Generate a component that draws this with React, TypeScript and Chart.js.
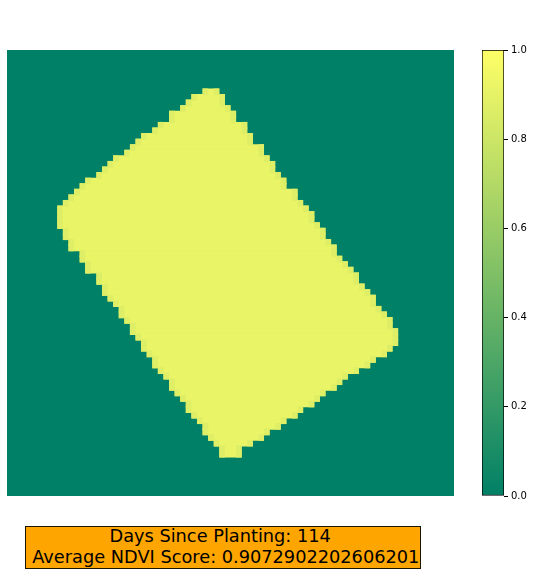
import React, { useEffect, useRef } from "react";
import { Chart, registerables } from "chart.js";

Chart.register(...registerables);

// ---- data ----
const gridSize = 80; // 80 x 80 NDVI raster
const firstFieldRow = 7;
// first and last field column of each raster row, rows 7..72
const fieldLeftCol = [
  35, 33, 32, 31, 29, 29, 27, 26, 24, 23, 22, 21, 19, 18, 17, 16, 14, 13, 12, 11,
  10, 9, 9, 9, 9, 10, 10, 11, 11, 13, 13, 14, 14, 16, 16, 17, 17, 18, 19, 20,
  20, 21, 22, 22, 23, 24, 24, 25, 26, 26, 27, 28, 29, 29, 30, 31, 32, 32, 33, 34,
  35, 35, 36, 37, 38, 38,
];
const fieldRightCol = [
  37, 38, 38, 39, 40, 40, 42, 42, 43, 43, 45, 45, 46, 47, 47, 48, 49, 49, 51, 51,
  52, 53, 54, 54, 55, 56, 56, 57, 58, 58, 59, 60, 61, 62, 62, 63, 64, 65, 65, 66,
  67, 68, 68, 69, 69, 69, 68, 67, 65, 64, 62, 60, 59, 58, 56, 55, 54, 52, 51, 49,
  48, 46, 45, 43, 41, 41,
];
const interiorNdvi = 0.915;
const edgeNdvi = 0.87;
const backgroundNdvi = 0.0;
const colorbarTicks = [0.0, 0.2, 0.4, 0.6, 0.8, 1.0];
const daysSincePlanting = 114;
const averageNdvi = "0.9072902202606201";

// matplotlib "summer" colormap
const summer = (v: number) =>
  `rgb(${Math.round(255 * v)},${Math.round(127.5 + 127.5 * v)},102)`;

const rowLabels = Array.from({ length: gridSize }, (_, i) => String(i));
const rowValue = (fn: (k: number) => [number, number]) =>
  rowLabels.map((_, r) => {
    const k = r - firstFieldRow;
    if (k < 0 || k >= fieldLeftCol.length) return null;
    return fn(k);
  });

const fieldBars = rowValue((k) => [fieldLeftCol[k], fieldRightCol[k] + 1]);
const leftEdgeBars = rowValue((k) => [fieldLeftCol[k], fieldLeftCol[k] + 1]);
const rightEdgeBars = rowValue((k) => [fieldRightCol[k], fieldRightCol[k] + 1]);
const backgroundBars = rowLabels.map(() => [0, gridSize]);

export default function App() {
  const mainRef = useRef<HTMLCanvasElement>(null);
  const cbRef = useRef<HTMLCanvasElement>(null);

  useEffect(() => {
    const common = {
      barPercentage: 1.2,
      categoryPercentage: 1,
      grouped: false,
      borderWidth: 0,
    };
    const main = new Chart(mainRef.current!, {
      type: "bar",
      data: {
        labels: rowLabels,
        datasets: [
          { ...common, data: leftEdgeBars as any, backgroundColor: summer(edgeNdvi) },
          { ...common, data: rightEdgeBars as any, backgroundColor: summer(edgeNdvi) },
          { ...common, data: fieldBars as any, backgroundColor: summer(interiorNdvi) },
          { ...common, data: backgroundBars as any, backgroundColor: summer(backgroundNdvi) },
        ],
      },
      options: {
        indexAxis: "y",
        animation: false,
        responsive: false,
        maintainAspectRatio: false,
        layout: { padding: 0 },
        scales: {
          x: { type: "linear", min: 0, max: gridSize, display: false },
          y: { type: "category", display: false },
        },
        plugins: { legend: { display: false }, tooltip: { enabled: false } },
      },
    });

    const cb = new Chart(cbRef.current!, {
      type: "bar",
      data: {
        labels: [""],
        datasets: [
          {
            data: [[0, 1]] as any,
            barPercentage: 1,
            categoryPercentage: 1,
            borderColor: "#000",
            borderWidth: 1,
            borderSkipped: false,
            backgroundColor: (ctx: any) => {
              const area = ctx.chart.chartArea;
              if (!area) return "rgba(0,0,0,0)";
              const g = ctx.chart.ctx.createLinearGradient(0, area.bottom, 0, area.top);
              g.addColorStop(0, summer(0));
              g.addColorStop(1, summer(1));
              return g;
            },
          },
        ],
      },
      options: {
        animation: false,
        responsive: false,
        maintainAspectRatio: false,
        layout: { padding: { top: 10, bottom: 10, left: 12, right: 0 } },
        scales: {
          x: { display: false },
          y: {
            type: "linear",
            position: "right",
            min: 0,
            max: 1,
            afterFit: (s: any) => {
              s.width = 29;
            },
            afterBuildTicks: (s: any) => {
              s.ticks = colorbarTicks.map((v) => ({ value: v }));
            },
            ticks: {
              callback: (v: any) => Number(v).toFixed(1),
              color: "#000",
              padding: 3,
              font: { family: "DejaVu Sans", size: 10 },
            },
            grid: {
              drawOnChartArea: false,
              drawTicks: true,
              tickLength: 4,
              color: "#000",
              lineWidth: 1,
            },
            border: { display: false },
          },
        },
        plugins: { legend: { display: false }, tooltip: { enabled: false } },
      },
    });

    return () => {
      main.destroy();
      cb.destroy();
    };
  }, []);

  return (
    <div
      style={{
        position: "fixed",
        left: 0,
        top: 0,
        width: 533,
        height: 574,
        background: "#fff",
        overflow: "hidden",
      }}
    >
      <canvas
        ref={mainRef}
        width={447}
        height={446}
        style={{ position: "absolute", left: 7, top: 50, width: 447, height: 446 }}
      />
      <canvas
        ref={cbRef}
        width={63}
        height={466}
        style={{ position: "absolute", left: 470, top: 40, width: 63, height: 466 }}
      />
      <div
        style={{
          position: "absolute",
          left: 25,
          top: 526,
          width: 394,
          height: 41,
          background: "#ffa500",
          border: "1px solid #1a1400",
          fontFamily: "DejaVu Sans",
          fontSize: 17.75,
          lineHeight: "21px",
          color: "#000",
          textAlign: "center",
          whiteSpace: "pre",
        }}
      >
        <div style={{ marginTop: -1 }}>{`Days Since Planting: ${daysSincePlanting} `}</div>
        <div>{` Average NDVI Score: ${averageNdvi}`}</div>
      </div>
    </div>
  );
}
